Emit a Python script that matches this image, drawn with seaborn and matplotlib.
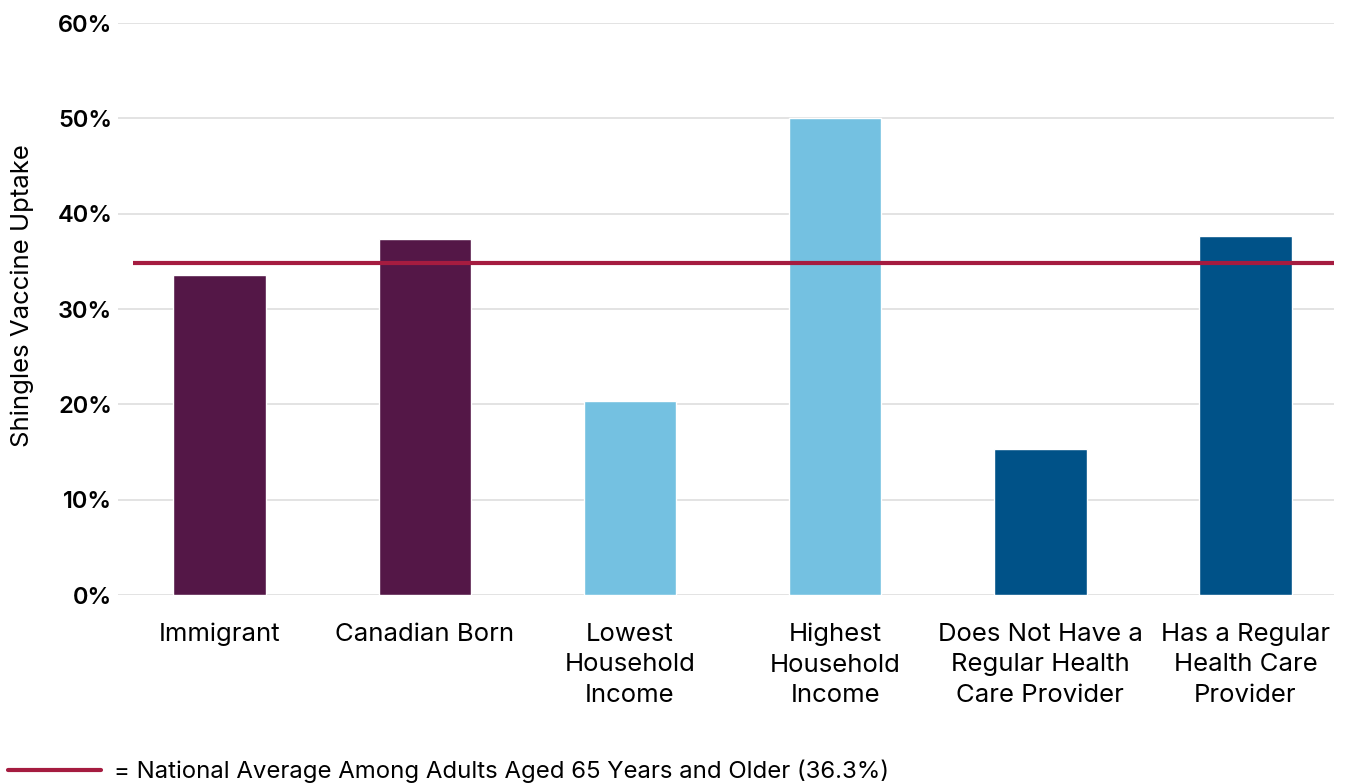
import numpy as np
import pandas as pd
import matplotlib
matplotlib.use("Agg")
import matplotlib.pyplot as plt
from matplotlib.ticker import PercentFormatter
import seaborn as sns

categories = ["Immigrant", "Canadian Born", "Lowest\nHousehold\nIncome",
              "Highest\nHousehold\nIncome", "Does Not Have a\nRegular Health\nCare Provider",
              "Has a Regular\nHealth Care\nProvider"]
uptake = [33.6, 37.3, 20.3, 50.0, 15.3, 37.7]
bar_colors = ["#541747", "#541747", "#74C1E1", "#74C1E1", "#005288", "#005288"]
national_avg_line = 34.8
legend_text = "= National Average Among Adults Aged 65 Years and Older (36.3%)"
yticks = [0, 10, 20, 30, 40, 50, 60]

df = pd.DataFrame({"group": categories, "uptake": uptake})

sns.set_theme(style="white")
plt.rcParams["font.family"] = ["Inter", "DejaVu Sans"]
plt.rcParams["text.color"] = "black"
plt.rcParams["axes.labelcolor"] = "black"
plt.rcParams["xtick.color"] = "black"
plt.rcParams["ytick.color"] = "black"

fig = plt.figure(figsize=(13.47, 7.84), dpi=100)
ax = fig.add_axes([118 / 1347, 1 - 595 / 784, (1334 - 118) / 1347, (595 - 23) / 784])

sns.barplot(data=df, x="group", y="uptake", hue="group", palette=bar_colors,
            width=0.45, saturation=1, legend=False, ax=ax, zorder=2)

ax.set_xlim(-0.495, 5.431)
ax.set_ylim(0, 60)
ax.set_yticks(yticks)
ax.yaxis.set_major_formatter(PercentFormatter(decimals=0))
ax.grid(axis="y", color="#e0e0e0", linewidth=1.3, zorder=0)
ax.set_axisbelow(True)
for s in ax.spines.values():
    s.set_visible(False)

ax.hlines(national_avg_line, -0.42, 5.431, color="#A51C40", linewidth=3, zorder=3)

ax.tick_params(axis="y", length=0, pad=4, labelsize=17)
ax.tick_params(axis="x", length=0, pad=20, labelsize=18.5)
for lbl in ax.get_yticklabels():
    lbl.set_fontweight("semibold")
for lbl in ax.get_xticklabels():
    lbl.set_linespacing(1.42)
ax.set_xlabel("")
ax.set_ylabel("Shingles Vaccine Uptake", fontsize=18.5)
ax.yaxis.set_label_coords(-84 / 1216, 0.523)

fig.add_artist(plt.Line2D([8 / 1347, 101 / 1347], [1 - 770 / 784] * 2,
                          color="#A51C40", linewidth=3, transform=fig.transFigure))
fig.text(114 / 1347, 1 - 771 / 784, legend_text, fontsize=17.25, va="center", ha="left")

fig.savefig("out.png", dpi=100)
